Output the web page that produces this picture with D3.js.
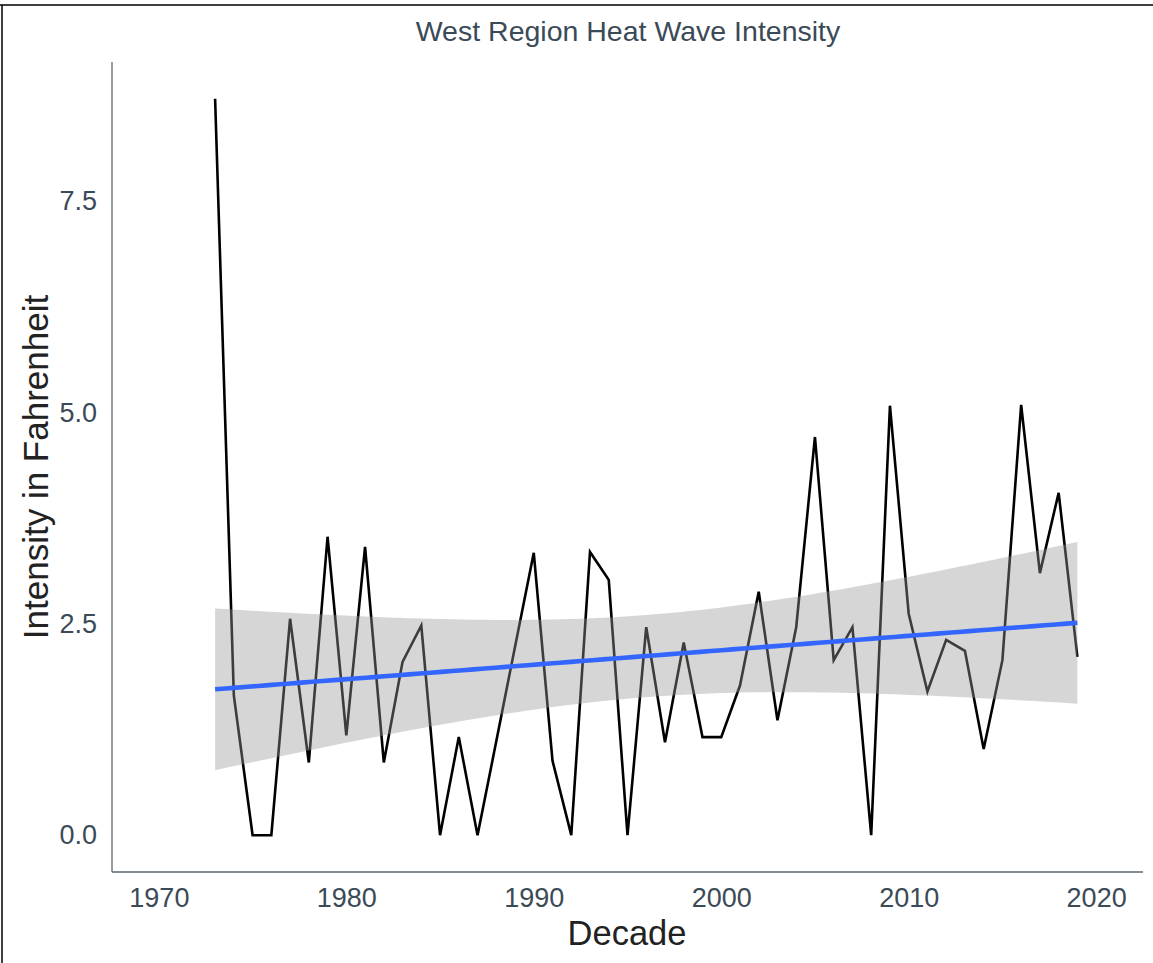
<!DOCTYPE html>
<html>
<head>
<meta charset="utf-8">
<script src="https://cdn.jsdelivr.net/npm/d3@7"></script>
<style>
  html, body { margin: 0; padding: 0; background: #fff; }
  svg { display: block; }
  text { font-family: "Liberation Sans", Arial, sans-serif; }
</style>
</head>
<body>
<div id="chart"></div>
<script>
// Annual heat wave intensity, West region (degrees Fahrenheit)
const years = [1973, 1974, 1975, 1976, 1977, 1978, 1979, 1980, 1981, 1982,
               1983, 1984, 1985, 1986, 1987, 1988, 1989, 1990, 1991, 1992,
               1993, 1994, 1995, 1996, 1997, 1998, 1999, 2000, 2001, 2002,
               2003, 2004, 2005, 2006, 2007, 2008, 2009, 2010, 2011, 2012,
               2013, 2014, 2015, 2016, 2017, 2018, 2019];
const intensity = [8.71, 1.65, 0.00, 0.00, 2.56, 0.86, 3.53, 1.18, 3.41, 0.86,
                   2.05, 2.48, 0.00, 1.16, 0.00, 1.11, 2.23, 3.34, 0.88, 0.00,
                   3.35, 3.02, 0.00, 2.46, 1.10, 2.28, 1.16, 1.16, 1.77, 2.88,
                   1.36, 2.46, 4.71, 2.07, 2.46, 0.00, 5.08, 2.62, 1.70, 2.31,
                   2.18, 1.02, 2.07, 5.09, 3.10, 4.05, 2.11];
const xTicks = [1970, 1980, 1990, 2000, 2010, 2020];
const yTicks = [0, 2.5, 5, 7.5];
const xDomain = [1970, 2020];

const W = 1153, H = 963;
const panel = { left: 112, right: 1143, top: 62, bottom: 872 };

const svg = d3.select("#chart").append("svg")
  .attr("width", W).attr("height", H);

// outer frame lines
svg.append("line").attr("x1", 0).attr("x2", W).attr("y1", 5).attr("y2", 5)
  .attr("stroke", "#000").attr("stroke-width", 1.5);
svg.append("line").attr("x1", 2).attr("x2", 2).attr("y1", 5).attr("y2", H)
  .attr("stroke", "#000").attr("stroke-width", 1.5);

// scales with 5% padding on each side of the data range
const xPad = (xDomain[1] - xDomain[0]) * 0.05;
const x = d3.scaleLinear()
  .domain([xDomain[0] - xPad, xDomain[1] + xPad])
  .range([panel.left, panel.right]);
const yMax = d3.max(intensity);
const yPad = yMax * 0.05;
const y = d3.scaleLinear()
  .domain([-yPad, yMax + yPad])
  .range([panel.bottom, panel.top]);

const data = years.map((yr, i) => ({ year: yr, value: intensity[i] }));

// Ordinary least squares fit with 95% confidence band
const n = data.length;
const mx = d3.mean(years), my = d3.mean(intensity);
const sxx = d3.sum(years, v => (v - mx) ** 2);
const sxy = d3.sum(data, d => (d.year - mx) * (d.value - my));
const slope = sxy / sxx;
const intercept = my - slope * mx;
const rss = d3.sum(data, d => (d.value - (intercept + slope * d.year)) ** 2);
const sigma = Math.sqrt(rss / (n - 2));
const tCrit = 2.0141; // t(0.975, df = 45)
const fitYears = d3.range(0, 81).map(i => years[0] + (years[n - 1] - years[0]) * i / 80);
const fit = fitYears.map(v => {
  const yhat = intercept + slope * v;
  const se = sigma * Math.sqrt(1 / n + (v - mx) ** 2 / sxx);
  return { year: v, fit: yhat, lo: yhat - tCrit * se, hi: yhat + tCrit * se };
});

// series line
svg.append("path")
  .datum(data)
  .attr("fill", "none")
  .attr("stroke", "#000")
  .attr("stroke-width", 2.6)
  .attr("stroke-linejoin", "miter")
  .attr("d", d3.line().x(d => x(d.year)).y(d => y(d.value)));

// confidence band
svg.append("path")
  .datum(fit)
  .attr("fill", "#999999")
  .attr("fill-opacity", 0.4)
  .attr("d", d3.area().x(d => x(d.year)).y0(d => y(d.lo)).y1(d => y(d.hi)));

// trend line
svg.append("path")
  .datum(fit)
  .attr("fill", "none")
  .attr("stroke", "#3366FF")
  .attr("stroke-width", 4.6)
  .attr("d", d3.line().x(d => x(d.year)).y(d => y(d.fit)));

// axes
const axisColor = "#5b6670";
const labelColor = "#3b4a57";

const xAxis = svg.append("g")
  .attr("transform", `translate(0,${panel.bottom})`)
  .call(d3.axisBottom(x).tickValues(xTicks).tickFormat(d3.format("d")).tickSize(0).tickPadding(16));
xAxis.select(".domain").attr("stroke", axisColor).attr("stroke-width", 1.3)
  .attr("d", `M${panel.left},0H${panel.right}`);
xAxis.selectAll("text").attr("font-size", 27).attr("fill", labelColor)
  .attr("font-family", "Liberation Sans, Arial, sans-serif");

const yAxis = svg.append("g")
  .attr("transform", `translate(${panel.left},0)`)
  .call(d3.axisLeft(y).tickValues(yTicks).tickFormat(d3.format(".1f")).tickSize(0).tickPadding(15));
yAxis.select(".domain").attr("stroke", axisColor).attr("stroke-width", 1.3)
  .attr("d", `M0,${panel.top}V${panel.bottom}`);
yAxis.selectAll("text").attr("font-size", 27).attr("fill", labelColor)
  .attr("font-family", "Liberation Sans, Arial, sans-serif");

// titles
svg.append("text")
  .attr("x", 628).attr("y", 41)
  .attr("text-anchor", "middle")
  .attr("font-size", 28.5)
  .attr("fill", "#3b4a57")
  .text("West Region Heat Wave Intensity");

svg.append("text")
  .attr("x", 627).attr("y", 945)
  .attr("text-anchor", "middle")
  .attr("font-size", 34.5)
  .attr("fill", "#222")
  .text("Decade");

svg.append("text")
  .attr("transform", "translate(48,467) rotate(-90)")
  .attr("text-anchor", "middle")
  .attr("font-size", 35)
  .attr("fill", "#222")
  .text("Intensity in Fahrenheit");
</script>
</body>
</html>
